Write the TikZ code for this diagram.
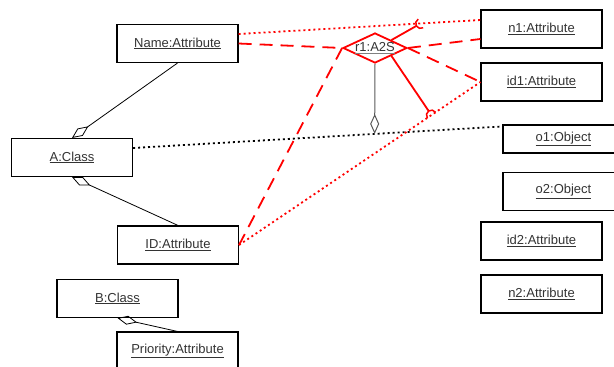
\documentclass[tikz,border=0pt]{standalone}
\usepackage{fontspec}
\setmainfont{Liberation Sans}
\usetikzlibrary{positioning, arrows.meta, shapes.geometric}
\usetikzlibrary{calc}
\tikzset{
x=1pt, y=1pt, % one unit is one pixel of the sketch
node distance=53pt, % spacing of the right-hand column
every node/.style={font=\fontsize{13}{15}\selectfont, text=black!80}, % label font
inst/.style={draw, line width=1.1pt, minimum width=121pt, minimum height=38pt, inner sep=0pt}, % instance boxes
agg/.style={{Diamond[open, length=20pt, width=9pt]}-, line width=0.8pt}, % hollow diamond at the start
rel/.style={diamond, draw=red, line width=1.8pt, minimum width=64pt, minimum height=30pt, inner sep=0pt}, % relation instance
fix/.style={red, line width=1.8pt, dash pattern=on 13pt off 8pt}, % dashed red
bind/.style={red, line width=1.8pt, dash pattern=on 2pt off 3pt}, % dotted red
link/.style={black, line width=1.8pt, dash pattern=on 2pt off 3pt}, % dotted black
socket/.style={red, line width=1.8pt}, % solid red with cup end
}

\begin{document}
\begin{tikzpicture}
      \useasboundingbox (0,0) rectangle (614,-367);
      \clip (0,0) rectangle (614,-367);
      % left side
      \node[inst] (name) at (177.5,-43.5) {\underline{Name:Attribute}};
      \node[inst] (aclass) at (72,-157.5) {\underline{A:Class}};
      \node[inst] (idattr) at (178,-245) {\underline{ID:Attribute}};
      \node[inst] (bclass) at (117.5,-298.5) {\underline{B:Class}};
      \node[inst] (prio) at (177.5,-351) {\underline{Priority:Attribute}};
      % right side
      \node[inst] (n1) at (541.5,-29) {\underline{n1:Attribute}};
      \node[inst, below of=n1] (id1) {\underline{id1:Attribute}};
      \node[inst, minimum height=28pt] (o1) at (563.5,-139) {\underline{o1:Object}};
      \node[inst, below of=o1, node distance=52.5pt, minimum height=38pt] (o2) {\underline{o2:Object}};
      \node[inst] (id2) at (541.5,-241) {\underline{id2:Attribute}};
      \node[inst, below of=id2] (n2) {\underline{n2:Attribute}};
      % relation
      \node[rel, label={center:{\color{gray}\underline{\textcolor{black!80}{r1:A2S}}}}] (r1) at (375,-48) {};
      \draw[agg] (aclass.north) -- (name.south);
      \draw[agg] (aclass.south) -- (idattr.north);
      \draw[agg] (bclass.south) -- (prio.north);
      \draw[link] ([yshift=9.5pt]aclass.east) -- ([yshift=-2pt]o1.north west) coordinate[pos=0.654] (aj);
      \draw[agg, black!65, line width=1pt] (aj) -- (r1.south);
      \draw[bind] ([yshift=9.5pt]name.east) -- ([yshift=9pt]n1.west) coordinate[pos=0.753] (s1);
      \draw[bind] (idattr.east) -- (id1.west) coordinate[pos=0.797] (s2);
      \draw[fix] (name.east) -- (r1.west);
      \draw[fix] (r1.east) -- ([yshift=-10pt]n1.west);
      \draw[fix] (r1.east) -- (id1.west);
      \draw[fix] (r1.west) -- (idattr.east);
      % sockets
      \draw[socket] (r1.north east) -- ($(s1)!5pt!(r1.north east)$);
      \draw[socket, line width=1.5pt] let \p1=($(s1)-(r1.north east)$), \n1={atan2(\y1,\x1)} in
            ($(s1)+(\n1+90:5pt)$) arc[start angle=\n1+90, delta angle=180, radius=5pt];
      \draw[socket] (r1.south east) -- ($(s2)!5pt!(r1.south east)$);
      \draw[socket, line width=1.5pt] let \p1=($(s2)-(r1.south east)$), \n1={atan2(\y1,\x1)} in
            ($(s2)+(\n1+90:5pt)$) arc[start angle=\n1+90, delta angle=180, radius=5pt];
    \end{tikzpicture}
\end{document}
